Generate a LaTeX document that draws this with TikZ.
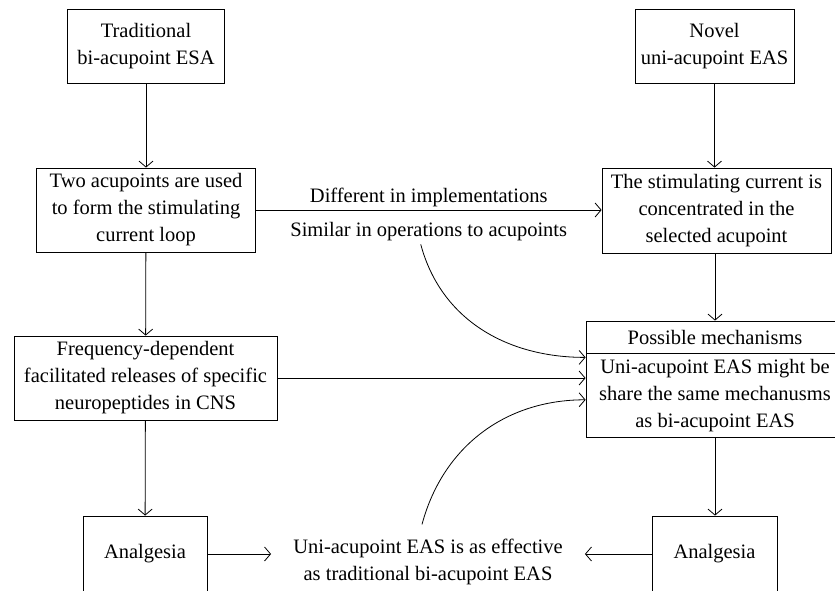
\documentclass[tikz,border=0pt]{standalone}
\usepackage{fontspec}
\setmainfont{Liberation Serif}
\usetikzlibrary{arrows.meta}

\tikzset{
  box/.style={draw, line width=0.8pt, align=center, inner sep=2pt},
  lbl/.style={align=center, inner sep=3pt},
  arr/.style={line width=0.8pt, -{Straight Barb[length=6pt,width=14pt]}},
}

\begin{document}
\begin{tikzpicture}[x=1pt, y=1pt, font=\fontsize{20.5}{27}\selectfont]
	%%%%% START %%%%%
	\useasboundingbox (0,0) rectangle (835,590);
	\clip (0,0) rectangle (835,590);
	
	% left column
	\node[box, minimum width=157, minimum height=74] (trad) at (146,544) {Traditional\\bi-acupoint ESA};
	\node[box, minimum width=219, minimum height=84] (twopts) at (146,380) {Two acupoints are used\\to form the stimulating\\current loop};
	\node[box, minimum width=263, minimum height=84] (release) at (145.5,212) {Frequency-dependent\\facilitated releases of specific\\neuropeptides in CNS};
	\node[box, minimum width=124, minimum height=76] (analgL) at (145,36) {Analgesia};
	
	% right column
	\node[box, minimum width=159, minimum height=74] (novel) at (714.5,544) {Novel\\uni-acupoint EAS};
	\node[box, minimum width=229, minimum height=85] (concentr) at (716.5,379.5) {The stimulating current is\\concentrated in the\\selected acupoint};
	\node[box, minimum width=258, minimum height=32] (mechtitle) at (715,253) {Possible mechanisms};
	\node[box, minimum width=258, minimum height=84, anchor=north] (mech) at (mechtitle.south) {Uni-acupoint EAS might be\\share the same mechanusms\\as bi-acupoint EAS};
	\node[box, minimum width=125, minimum height=76] (analgR) at (714.5,36) {Analgesia};
	
	% conclusion
	\node[lbl, inner xsep=22pt, inner ysep=14pt] (effective) at (428,28.5) {Uni-acupoint EAS is as effective\\as traditional bi-acupoint EAS};
	
	% vertical arrows
	\draw[arr] (trad) -- (twopts);
	\draw[arr] (twopts) -- (release);
	\draw[arr] (release) -- (analgL);
	\draw[arr] (novel.south) -- (novel.south |- concentr.north);
	\draw[arr] (concentr.south -| mechtitle) -- (mechtitle.north);
	\draw[arr] (mech.south) -- (mech.south |- analgR.north);
	
	% horizontal arrows
	\draw[arr] (twopts.east) -- (twopts.east -| concentr.west)
		node[lbl, midway, above] (diffl) {Different in implementations}
		node[lbl, midway, below, yshift=-9pt] (siml) {Similar in operations to acupoints};
	\draw[arr] (release.east) -- (release.east -| mech.west);
	\draw[arr] (analgL.east) -- (analgL.east -| effective.west);
	\draw[arr] (analgR.west) -- (analgR.west -| effective.east);
	
	% curved arrows
	\draw[arr] ([xshift=-8pt]siml.south) to[out=-75, in=180] ([yshift=-4pt]mech.north west);
	\draw[arr] ([xshift=-6pt]effective.north) to[out=75, in=180] ([yshift=-4pt]mech.west);
	
	%%%%% END %%%%%
\end{tikzpicture}
\end{document}
